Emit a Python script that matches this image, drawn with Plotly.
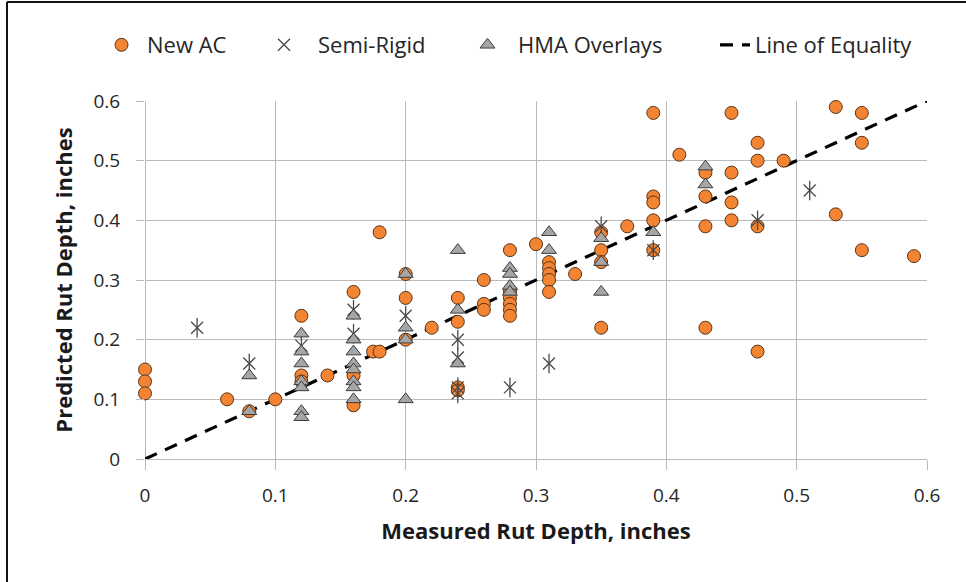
import plotly.graph_objects as go

# ---- data ----
new_ac_x = [0, 0, 0, 0.063, 0.08, 0.10, 0.12, 0.12, 0.12, 0.14,
            0.16, 0.16, 0.16, 0.175, 0.18, 0.18, 0.20, 0.20, 0.20, 0.22,
            0.24, 0.24, 0.24, 0.24, 0.26, 0.26, 0.26, 0.28, 0.28, 0.28,
            0.28, 0.28, 0.28, 0.30, 0.31, 0.31, 0.31, 0.31, 0.31, 0.33,
            0.35, 0.35, 0.35, 0.35, 0.37, 0.39, 0.39, 0.39, 0.39, 0.39,
            0.41, 0.43, 0.43, 0.43, 0.43, 0.45, 0.45, 0.45, 0.45, 0.47,
            0.47, 0.47, 0.47, 0.49, 0.53, 0.53, 0.55, 0.55, 0.55, 0.59]
new_ac_y = [0.15, 0.13, 0.11, 0.10, 0.08, 0.10, 0.24, 0.14, 0.13, 0.14,
            0.28, 0.09, 0.14, 0.18, 0.18, 0.38, 0.31, 0.27, 0.20, 0.22,
            0.27, 0.23, 0.12, 0.115, 0.30, 0.26, 0.25, 0.35, 0.28, 0.27,
            0.26, 0.25, 0.24, 0.36, 0.33, 0.32, 0.31, 0.30, 0.28, 0.31,
            0.38, 0.35, 0.33, 0.22, 0.39, 0.58, 0.44, 0.43, 0.40, 0.35,
            0.51, 0.48, 0.44, 0.39, 0.22, 0.58, 0.48, 0.43, 0.40, 0.53,
            0.50, 0.39, 0.18, 0.50, 0.59, 0.41, 0.58, 0.53, 0.35, 0.34]

semi_x = [0.04, 0.08, 0.12, 0.16, 0.16, 0.20, 0.24, 0.24, 0.24, 0.24,
          0.28, 0.31, 0.35, 0.39, 0.47, 0.51]
semi_y = [0.22, 0.16, 0.19, 0.25, 0.21, 0.24, 0.20, 0.17, 0.12, 0.11,
          0.12, 0.16, 0.39, 0.35, 0.40, 0.45]

hma_x = [0.08, 0.08, 0.12, 0.12, 0.12, 0.12, 0.12, 0.12, 0.12, 0.16,
         0.16, 0.16, 0.16, 0.16, 0.16, 0.16, 0.16, 0.20, 0.20, 0.20,
         0.20, 0.24, 0.24, 0.24, 0.28, 0.28, 0.28, 0.28, 0.31, 0.31,
         0.35, 0.35, 0.35, 0.39, 0.43, 0.43]
hma_y = [0.14, 0.08, 0.21, 0.18, 0.16, 0.13, 0.12, 0.08, 0.07, 0.24,
         0.20, 0.18, 0.16, 0.15, 0.13, 0.12, 0.10, 0.31, 0.22, 0.20,
         0.10, 0.35, 0.25, 0.16, 0.32, 0.31, 0.29, 0.28, 0.38, 0.35,
         0.37, 0.33, 0.28, 0.38, 0.49, 0.46]

equality_x = [0, 0.6]
equality_y = [0, 0.6]

x_ticks = [0, 0.1, 0.2, 0.3, 0.4, 0.5, 0.6]
y_ticks = [0, 0.1, 0.2, 0.3, 0.4, 0.5, 0.6]

FONT = "Open Sans, Liberation Sans, Arial, sans-serif"
GRID = "#bababa"
ASTER = "#4a4a4a"

fig = go.Figure()

fig.add_trace(go.Scatter(
    x=equality_x, y=equality_y, mode="lines", name="Line of Equality",
    line=dict(color="black", width=3.2, dash="13px,9px"),
    legend="legend5", cliponaxis=False))

fig.add_trace(go.Scatter(
    x=new_ac_x, y=new_ac_y, mode="markers", name="New AC",
    marker=dict(symbol="circle", size=13, color="#F28434",
                line=dict(color="#5a3515", width=1)),
    legend="legend2", cliponaxis=False))

fig.add_trace(go.Scatter(
    x=semi_x, y=semi_y, mode="markers", name="Semi-Rigid",
    legendgroup="semi",
    marker=dict(symbol="x-thin-open", size=12, color=ASTER,
                line=dict(color=ASTER, width=1.3)),
    legend="legend3", cliponaxis=False))
fig.add_trace(go.Scatter(
    x=semi_x, y=semi_y, mode="markers", name="Semi-Rigid",
    legendgroup="semi", showlegend=False,
    marker=dict(symbol="line-ns-open", size=14, color=ASTER,
                line=dict(color=ASTER, width=1.3)),
    legend="legend3", cliponaxis=False))

fig.add_trace(go.Scatter(
    x=hma_x, y=hma_y, mode="markers", name="HMA Overlays",
    marker=dict(symbol="triangle-up", size=13, color="#a6a6a6",
                line=dict(color="#3c3c3c", width=1)),
    legend="legend4", cliponaxis=False))

L, R, T, B = 145, 39, 101, 123
W, H = 966, 582
pw, ph = W - L - R, H - T - B


def px2x(p):
    return (p - L) / pw


def py2y(p):
    return (H - B - p) / ph


leg_y = py2y(45)
leg_font = dict(family=FONT, size=22, color="#262626")


def leg(xpix, iw=30):
    return dict(x=px2x(xpix), y=leg_y, xanchor="left", yanchor="middle",
                orientation="h", bgcolor="rgba(0,0,0,0)", font=leg_font,
                borderwidth=0, itemwidth=iw)


fig.update_layout(
    width=W, height=H,
    margin=dict(l=L, r=R, t=T, b=B, autoexpand=False),
    paper_bgcolor="white", plot_bgcolor="white",
    font=dict(family=FONT, size=18, color="#262626"),
    showlegend=True,
    legend=dict(visible=False),
    legend2=leg(96, 41), legend3=leg(250, 58), legend4=leg(457, 51),
    legend5=leg(715, 30),
    xaxis=dict(range=[0, 0.6], tickvals=x_ticks,
               ticktext=[f"{v:g}" for v in x_ticks],
               showgrid=True, gridcolor=GRID, gridwidth=1.3,
               zeroline=True, zerolinecolor=GRID, zerolinewidth=1.3,
               ticks="outside", ticklen=10, tickcolor=GRID, tickwidth=1.3,
               ticklabelstandoff=9,
               tickfont=dict(family=FONT, size=19, color="#262626"),
               showline=False,
               title=dict(text="<b>Measured Rut Depth, inches</b>",
                          font=dict(family=FONT, size=22, color="#1a1a1a"),
                          standoff=16)),
    yaxis=dict(range=[0, 0.6], tickvals=y_ticks,
               ticktext=[f"{v:g}" for v in y_ticks],
               showgrid=True, gridcolor=GRID, gridwidth=1.3,
               zeroline=True, zerolinecolor=GRID, zerolinewidth=1.3,
               ticks="outside", ticklen=8, tickcolor=GRID, tickwidth=1.3,
               ticklabelstandoff=12,
               tickfont=dict(family=FONT, size=19, color="#262626"),
               showline=False,
               title=dict(text="<b>Predicted Rut Depth, inches</b>",
                          font=dict(family=FONT, size=22, color="#1a1a1a"),
                          standoff=14)),
    shapes=[
        dict(type="line", xref="paper", yref="paper",
             x0=px2x(7), x1=px2x(966), y0=py2y(2), y1=py2y(2),
             line=dict(color="#111", width=2)),
        dict(type="line", xref="paper", yref="paper",
             x0=px2x(7), x1=px2x(7), y0=py2y(2), y1=py2y(582),
             line=dict(color="#111", width=2)),
    ],
)

fig.write_html("out.html")
